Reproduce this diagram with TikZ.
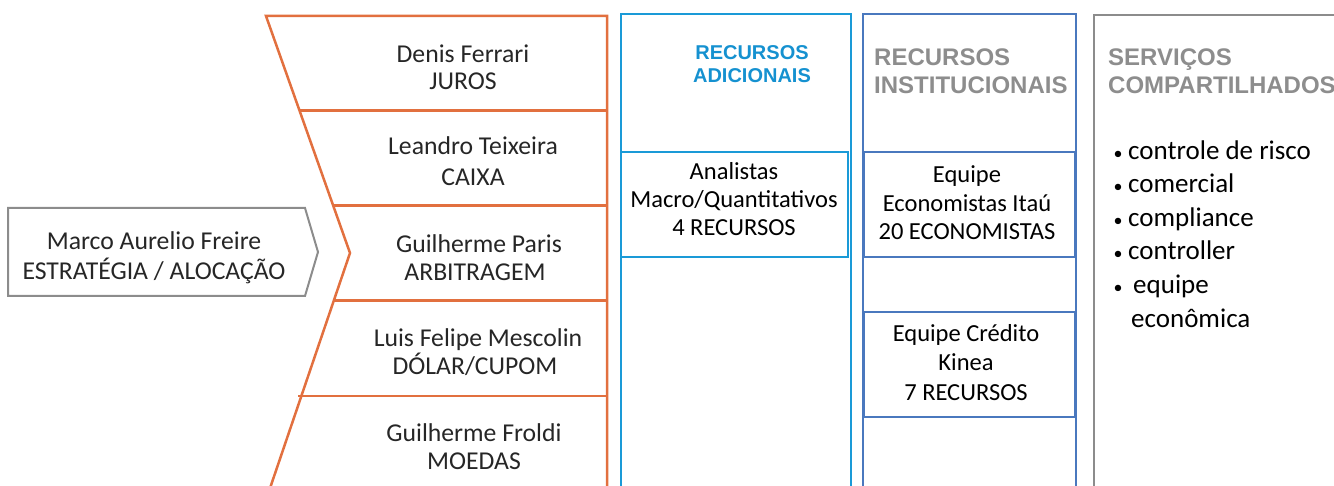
\documentclass[tikz,border=0pt]{standalone}
\usepackage{fontspec}
\setmainfont{Carlito}
\newfontfamily\titlefont{Liberation Sans}
\definecolor{corange}{HTML}{E2703F}
\definecolor{cblue}{HTML}{1A9AD7}
\definecolor{cdblue}{HTML}{4A78BE}
\definecolor{cgray}{HTML}{8C8C8C}
\definecolor{ctgray}{HTML}{8D8D8D}
\definecolor{ctblue}{HTML}{1591D0}
\tikzset{
  lt/.style={font=\fontsize{25.7}{30}\selectfont, text=black!85, inner sep=0pt, anchor=base},
  bx/.style={font=\fontsize{24.5}{30}\selectfont, text=black, inner sep=0pt, anchor=base},
  bl/.style={font=\fontsize{27}{32}\selectfont, text=black, inner sep=0pt, anchor=base west},
  bul/.style={font=\fontsize{18}{20}\selectfont, text=black, inner sep=0pt, anchor=base},
  ttl/.style={font=\titlefont\bfseries\fontsize{24}{28}\selectfont, text=ctgray, inner sep=0pt, anchor=base west},
  ttlb/.style={font=\titlefont\bfseries\fontsize{20}{24}\selectfont, text=ctblue, inner sep=0pt, anchor=base},
  oline/.style={draw=corange, line width=2.5pt},
}
\begin{document}
\begin{tikzpicture}[x=1pt,y=-1pt]
\useasboundingbox (0,0) rectangle (1334,486);
\clip (0,0) rectangle (1334,486);

% gray arrow box
\draw[draw=cgray, line width=2pt, line join=miter] (8,208) -- (305,208) -- (318,252) -- (305,296) -- (8,296) -- cycle;
\node[lt] (m1) at (154,250) {Marco Aurelio Freire};
\node[lt] (m2) at (154,280) {ESTRATÉGIA / ALOCAÇÃO};

% orange chevron column
\draw[oline, line join=miter] (266,500) -- (350,253) -- (266,16) -- (607,16) -- (607,500);
\draw[oline] (299.3,110.5) -- (607,110.5);
\draw[oline] (333,205.5) -- (607,205.5);
\draw[oline] (333,300.5) -- (607,300.5);
\draw[oline] (298.4,396) -- (607,396);

\node[lt] (o1a) at (463,63) {Denis Ferrari};
\node[lt] (o1b) at (463,90) {JUROS};
\node[lt] (o2a) at (473,155) {Leandro Teixeira};
\node[lt] (o2b) at (473,186) {CAIXA};
\node[lt] (o3a) at (479,253) {Guilherme Paris};
\node[lt] (o3b) at (475,281) {ARBITRAGEM};
\node[lt] (o4a) at (478,347) {Luis Felipe Mescolin};
\node[lt] (o4b) at (475,375) {DÓLAR/CUPOM};
\node[lt] (o5a) at (474,441) {Guilherme Froldi};
\node[lt] (o5b) at (474,469) {MOEDAS};

% blue column
\draw[draw=cblue, line width=2pt] (621,14) rectangle (851,500);
\node[ttlb] (b1) at (752,60) {RECURSOS};
\node[ttlb] (b2) at (752,83) {ADICIONAIS};
\draw[draw=cblue, line width=2pt] (621,152) rectangle (848,257);
\node[bx] (ba) at (734,180) {Analistas};
\node[bx] (bb) at (734,208) {Macro/Quantitativos};
\node[bx] (bc) at (734,236) {4 RECURSOS};

% dark blue column
\draw[draw=cdblue, line width=2pt] (863,14) rectangle (1076,500);
\node[ttl] (d1) at (874,66) {RECURSOS};
\node[ttl] (d2) at (874,94) {INSTITUCIONAIS};
\draw[draw=cdblue, line width=2pt] (864,152) rectangle (1075,257);
\node[bx] (da) at (967,183) {Equipe};
\node[bx] (db) at (967,212) {Economistas Itaú};
\node[bx] (dc) at (967,240) {20 ECONOMISTAS};
\draw[draw=cdblue, line width=2pt] (864,312) rectangle (1075,417);
\node[bx] (ea) at (966,342) {Equipe Crédito};
\node[bx] (eb) at (966,371) {Kinea};
\node[bx] (ec) at (966,400) {7 RECURSOS};

% gray column
\draw[draw=cgray, line width=2.5pt] (1094,15) rectangle (1360,500);
\node[ttl] (s1) at (1108,66) {SERVIÇOS};
\node[ttl] (s2) at (1108,94) {COMPARTILHADOS};

\node[bul] (p1) at (1118,159.5) {•};
\node[bl] (t1) at (1128,159.5) {controle de risco};
\node[bul] (p2) at (1118,193) {•};
\node[bl] (t2) at (1128,193) {comercial};
\node[bul] (p3) at (1118,226.5) {•};
\node[bl] (t3) at (1128,226.5) {compliance};
\node[bul] (p4) at (1118,260) {•};
\node[bl] (t4) at (1128,260) {controller};
\node[bul] (p5) at (1118,294) {•};
\node[bl] (t5) at (1133,294) {equipe};
\node[bl] (t6) at (1131,327.5) {econômica};
\end{tikzpicture}
\end{document}
